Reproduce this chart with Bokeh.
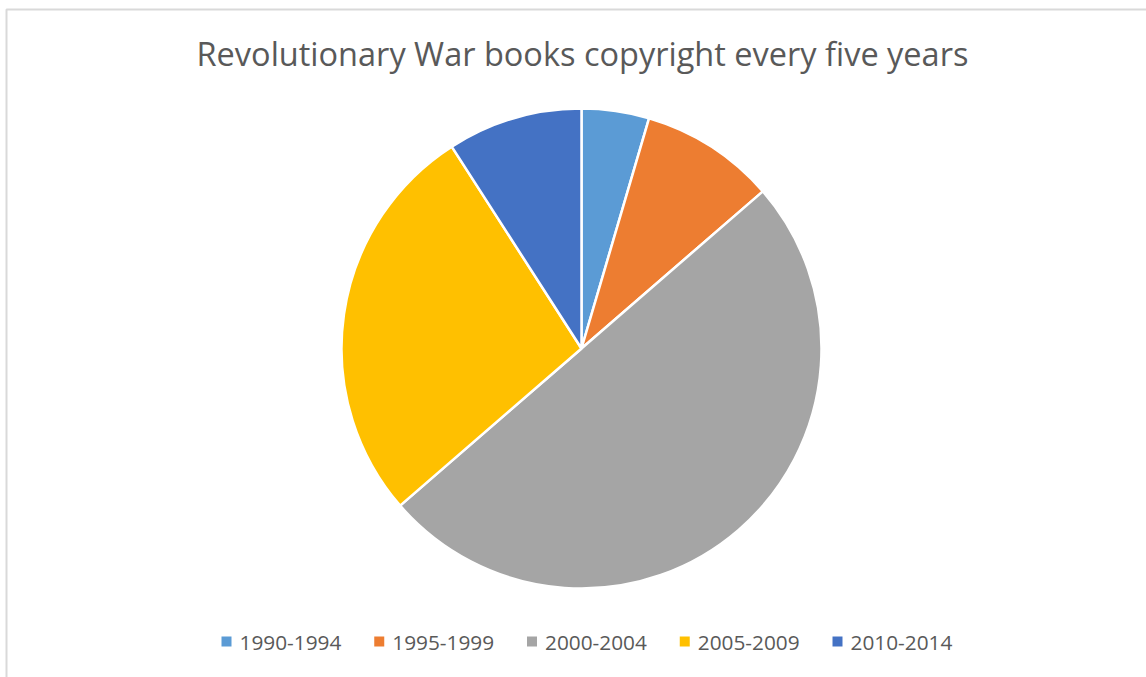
import math
from bokeh.plotting import figure
from bokeh.models import Range1d, ColumnDataSource
from bokeh.core.properties import value
from bokeh.embed import file_html
from bokeh.resources import INLINE

# ---- data ----
categories = ["1990-1994", "1995-1999", "2000-2004", "2005-2009", "2010-2014"]
counts = [1, 2, 11, 6, 2]
colors = ["#5B9BD5", "#ED7D31", "#A5A5A5", "#FFC000", "#4472C4"]
title_text = "Revolutionary War books copyright every five years"

W, H = 1146, 677
p = figure(width=W, height=H, output_backend="svg", toolbar_location=None,
           x_range=Range1d(0, W), y_range=Range1d(0, H), min_border=0)
p.axis.visible = False
p.grid.visible = False
p.outline_line_color = None
p.background_fill_color = "white"
p.border_fill_color = "white"

# chart border
p.quad(left=[6], right=[W + 20], top=[H - 9], bottom=[-20],
       fill_color=None, line_color="#D9D9D9", line_width=2)

# pie
total = sum(counts)
cx, cy, r = 581, H - 348, 240
starts, ends = [], []
cum = 0.0
for c in counts:
    a0 = math.pi / 2 - 2 * math.pi * cum / total
    cum += c
    a1 = math.pi / 2 - 2 * math.pi * cum / total
    starts.append(a1)
    ends.append(a0)
src = ColumnDataSource(dict(start=starts, end=ends, color=colors, cat=categories,
                            x=[cx] * len(counts), y=[cy] * len(counts)))
p.wedge(x="x", y="y", radius=r, start_angle="start", end_angle="end",
        fill_color="color", line_color="white", line_width=2.5, source=src)

# title
p.text(x=[582], y=[H - 53], text=[title_text], text_font=value("Open Sans"),
       text_font_size="32.5px", text_color="#595959", text_align="center",
       text_baseline="middle")

# legend (manual, horizontal)
lx0, step = 221, 152.75
lxs = [lx0 + i * step for i in range(len(categories))]
p.rect(x=[x + 5 for x in lxs], y=[H - 641] * len(lxs), width=10, height=10,
       fill_color=colors, line_color=None)
p.text(x=[x + 18 for x in lxs], y=[H - 642] * len(lxs), text=categories,
       text_font=value("Open Sans"), text_font_size="20.8px", text_color="#595959",
       text_align="left", text_baseline="middle")

open("out.html", "w").write(file_html(p, INLINE))
